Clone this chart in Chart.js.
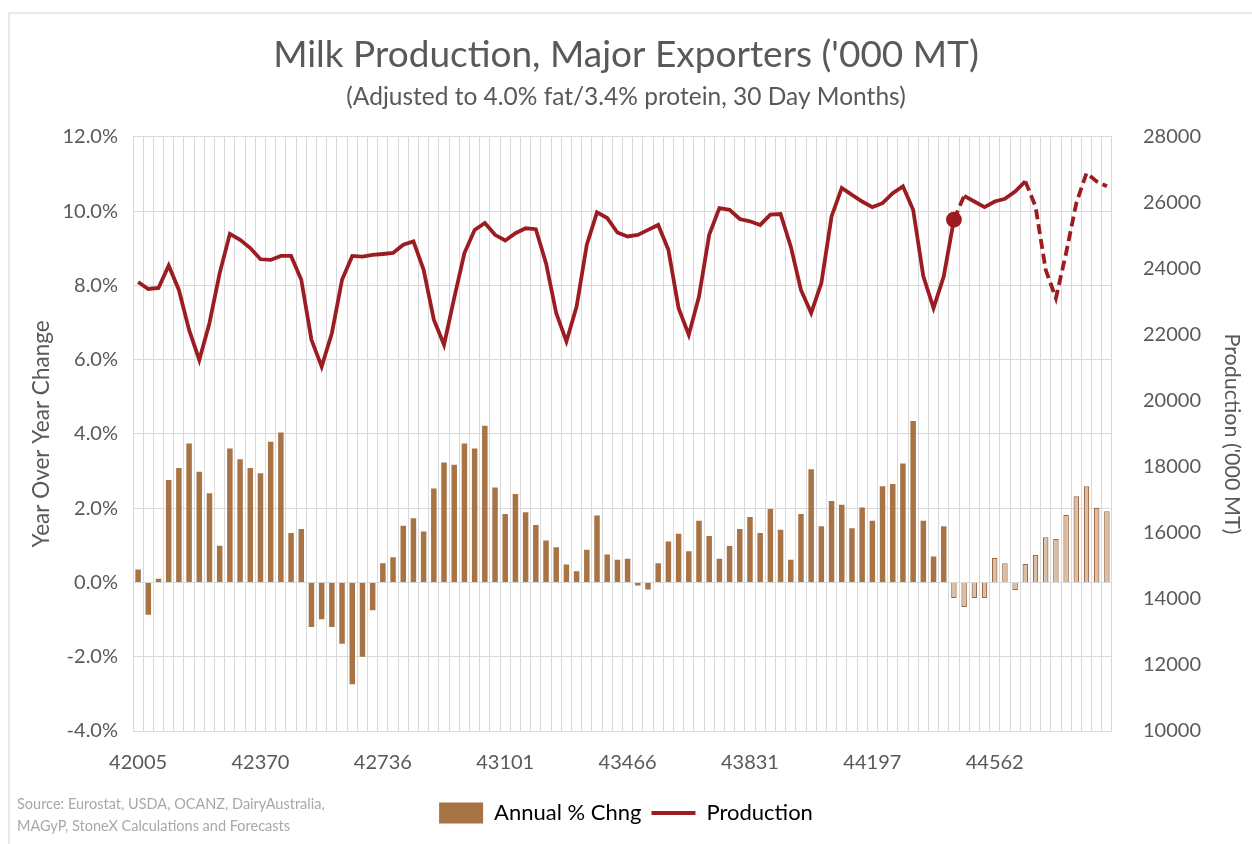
<!DOCTYPE html>
<html>
<head>
<meta charset="utf-8">
<title>Milk Production, Major Exporters</title>
<script src="https://cdn.jsdelivr.net/npm/chart.js@4.4.1/dist/chart.umd.min.js"></script>
<style>
  html, body { margin: 0; padding: 0; background: #fff; }
  #wrap { position: relative; width: 1252px; height: 844px; }
  #frame { position: absolute; left: 8px; top: 12px; right: 0; bottom: 0;
           border-left: 2px solid #ece7e0; border-top: 2px solid #ece7e0; pointer-events: none; }
  #source { position: absolute; left: 17px; top: 793px; font: 14.5px Lato, sans-serif;
            color: #a8a8a8; line-height: 22px; }
</style>
</head>
<body>
<div id="wrap">
  <canvas id="milkChart" width="1252" height="844"></canvas>
  <div id="frame"></div>
  <div id="source">Source: Eurostat, USDA, OCANZ, DairyAustralia,<br>MAGyP, StoneX Calculations and Forecasts</div>
</div>
<script>
// tick labels shown on the x axis (Excel date serials, Jan 1 of each year)
const yearTicks = ['42005', '42370', '42736', '43101', '43466', '43831', '44197', '44562'];

// monthly categories, Jan 2015 .. Dec 2022
const months = [];
for (let y = 2015; y <= 2022; y++) {
    for (let m = 1; m <= 12; m++) {
        months.push(y + '-' + (m < 10 ? '0' + m : m));
    }
}

// year over year change, %
const yoyChange = [
    0.35, -0.87, 0.10, 2.76, 3.08, 3.74, 2.98, 2.40, 0.99, 3.61, 3.32, 3.08,
    2.94, 3.79, 4.04, 1.33, 1.44, -1.20, -0.99, -1.20, -1.65, -2.74, -2.00, -0.75,
    0.52, 0.68, 1.53, 1.73, 1.37, 2.53, 3.23, 3.17, 3.74, 3.61, 4.22, 2.56,
    1.84, 2.38, 1.89, 1.55, 1.13, 0.95, 0.48, 0.30, 0.88, 1.80, 0.75, 0.61,
    0.64, -0.08, -0.19, 0.52, 1.10, 1.31, 0.84, 1.66, 1.25, 0.64, 0.98, 1.44,
    1.76, 1.33, 1.98, 1.42, 0.61, 1.84, 3.05, 1.51, 2.19, 2.09, 1.46, 2.02,
    1.66, 2.59, 2.65, 3.20, 4.35, 1.66, 0.70, 1.51, -0.42, -0.66, -0.42, -0.42,
    0.66, 0.52, -0.21, 0.50, 0.74, 1.22, 1.17, 1.82, 2.32, 2.59, 2.01, 1.92
];

// production, '000 MT
const production = [
    23600, 23390, 23420, 24100, 23360, 22150, 21240, 22360, 23870, 25060, 24880, 24630,
    24290, 24270, 24390, 24390, 23670, 21850, 21040, 22050, 23670, 24390, 24370, 24420,
    24450, 24480, 24730, 24830, 23970, 22460, 21700, 23120, 24480, 25180, 25390, 25030,
    24860, 25080, 25230, 25200, 24170, 22660, 21800, 22860, 24730, 25710, 25540, 25100,
    24980, 25030, 25180, 25330, 24580, 22810, 22000, 23160, 25030, 25840, 25790, 25510,
    25440, 25330, 25640, 25660, 24680, 23360, 22660, 23570, 25590, 26450, 26240, 26040,
    25870, 25990, 26290, 26500, 25790, 23770, 22810, 23770, 25490, 26210, 26040, 25870,
    26040, 26120, 26340, 26650, 25890, 23970, 23110, 24480, 25990, 26900, 26650, 26500
];

const forecastStart = 80;   // first forecast month
const dashedFrom = 87;      // production line dashed again from here

const barColor = '#a87446';
const barLight = '#dcbfa3';
const lineColor = '#9c1d21';
const textColor = '#595959';
const gridColor = '#d9d9d9';
const bottomPad = 10;

Chart.defaults.font.family = 'Lato, sans-serif';
Chart.defaults.color = textColor;

var ctx = document.getElementById('milkChart').getContext('2d');
var milkChart = new Chart(ctx, {
    type: 'bar',
    data: {
        labels: months,
        datasets: [{
            type: 'line',
            label: 'Production',
            data: production,
            yAxisID: 'y1',
            borderColor: lineColor,
            backgroundColor: lineColor,
            borderWidth: 3.8,
            tension: 0,
            pointRadius: production.map((v, i) => i === forecastStart ? 6 : 0),
            pointBackgroundColor: lineColor,
            pointBorderColor: lineColor,
            segment: {
                borderDash: c => (c.p0DataIndex === forecastStart || c.p0DataIndex >= dashedFrom) ? [10, 5] : undefined
            },
            order: 0
        }, {
            type: 'bar',
            label: 'Annual % Chng',
            data: yoyChange,
            yAxisID: 'y',
            backgroundColor: yoyChange.map((v, i) => i >= forecastStart ? barLight : barColor),
            borderColor: yoyChange.map((v, i) => i >= forecastStart ? '#9a6a48' : barColor),
            borderWidth: yoyChange.map((v, i) => i >= forecastStart ? 1.2 : 0),
            categoryPercentage: 1,
            barPercentage: 0.54,
            order: 1
        }]
    },
    options: {
        responsive: false,
        animation: false,
        devicePixelRatio: 1,
        layout: { padding: { bottom: bottomPad } },
        plugins: {
            title: {
                display: true,
                text: "Milk Production, Major Exporters ('000 MT)",
                color: textColor,
                font: { size: 37, weight: 'normal' },
                padding: { top: 33, bottom: 0 }
            },
            subtitle: {
                display: true,
                text: '(Adjusted to 4.0% fat/3.4% protein, 30 Day Months)',
                color: textColor,
                font: { size: 24.5 },
                padding: { top: 5, bottom: 25 }
            },
            legend: {
                position: 'bottom',
                labels: {
                    usePointStyle: true,
                    pointStyleWidth: 44,
                    boxHeight: 21,
                    padding: 10,
                    color: textColor,
                    font: { size: 22 },
                    generateLabels: function() {
                        return [
                            { text: 'Annual % Chng', fillStyle: barColor, strokeStyle: barColor, lineWidth: 0, pointStyle: 'rect', datasetIndex: 1 },
                            { text: 'Production', fillStyle: lineColor, strokeStyle: lineColor, lineWidth: 3.8, pointStyle: 'line', datasetIndex: 0 }
                        ];
                    }
                }
            },
            tooltip: { enabled: false }
        },
        scales: {
            x: {
                offset: true,
                grid: { offset: true, color: gridColor, drawTicks: false },
                border: { display: false },
                ticks: {
                    autoSkip: false,
                    maxRotation: 0,
                    padding: 20,
                    font: { size: 20 },
                    callback: function(value, index) {
                        return index % 12 === 0 ? yearTicks[index / 12] : '';
                    }
                },
                afterFit: function(scale) {
                    scale.height = 844 - 731 - scale.chart.legend.height - bottomPad;
                }
            },
            y: {
                position: 'left',
                min: -4,
                max: 12,
                ticks: {
                    stepSize: 2,
                    padding: 15,
                    font: { size: 20 },
                    callback: function(value) {
                        return value.toFixed(1) + '%';
                    }
                },
                grid: { color: gridColor, drawTicks: false },
                border: { display: false },
                title: {
                    display: true,
                    text: 'Year Over Year Change',
                    font: { size: 22.5 },
                    padding: { top: 28, bottom: 0 }
                },
                afterFit: function(scale) {
                    scale.width = 133;
                }
            },
            y1: {
                position: 'right',
                min: 10000,
                max: 28000,
                ticks: {
                    stepSize: 2000,
                    padding: 23,
                    font: { size: 20 },
                    callback: function(value) {
                        return String(value);
                    }
                },
                grid: { display: false },
                border: { display: false },
                title: {
                    display: true,
                    text: "Production ('000 MT)",
                    font: { size: 21.5 },
                    padding: { top: 7, bottom: 0 }
                },
                afterFit: function(scale) {
                    scale.width = 140;
                }
            }
        }
    }
});
</script>
</body>
</html>
